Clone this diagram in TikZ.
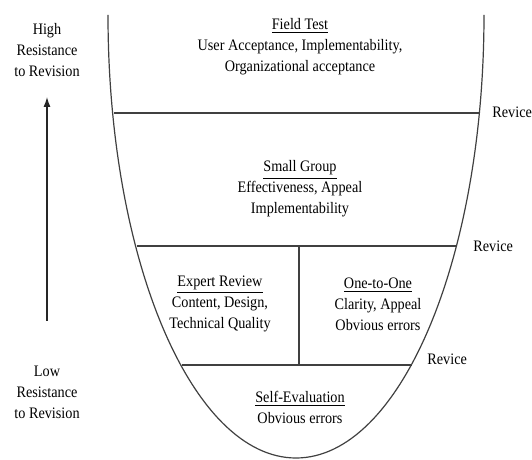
\documentclass[tikz,border=0pt]{standalone}
\usepackage{fontspec}
\setmainfont[FakeStretch=0.89]{Liberation Serif}
\usetikzlibrary{arrows.meta}
\tikzset{
  x=0.5pt, y=0.5pt,
  lbl/.style={align=center, inner sep=0pt, text=black, font=\fontsize{8}{10.5}\selectfont},
  rev/.style={anchor=west, inner sep=0pt, text=black, font=\fontsize{8}{10.5}\selectfont},
  ln/.style={draw=black!75, line width=0.6pt},
}
\begin{document}
\begin{tikzpicture}
\useasboundingbox (0,0) rectangle (532,-460);
% U shape (half ellipse)
\draw[ln] (108,-15) arc[start angle=180, end angle=360, x radius=188, y radius=443];
% boundary points
\coordinate (l1) at (113.7,-113);
\coordinate (r1) at (480.3,-113);
\coordinate (l2) at (136.6,-246);
\coordinate (r2) at (457.4,-246);
\coordinate (l3) at (181.8,-365);
\coordinate (r3) at (412.2,-365);
\coordinate (vt) at (299,-246);
\coordinate (vb) at (299,-365);
\draw[ln] (l1) -- (r1);
\draw[ln] (l2) -- (r2);
\draw[ln] (l3) -- (r3);
\draw[ln] (vt) -- (vb);
% Revice labels
\node[rev] (rv1) at (492,-112) {Revice};
\node[rev] (rv2) at (473,-246) {Revice};
\node[rev] (rv3) at (427,-359) {Revice};
% stage texts
\node[lbl] (field) at (300,-47) {\underline{Field Test}\\User Acceptance, Implementability,\\Organizational acceptance};
\node[lbl] (small) at (300,-189) {\underline{Small Group}\\Effectiveness, Appeal\\Implementability};
\node[lbl] (expert) at (220,-304) {\underline{Expert Review}\\Content, Design,\\Technical Quality};
\node[lbl] (one) at (378,-304) {\underline{One-to-One}\\Clarity, Appeal\\Obvious errors};
\node[lbl] (self) at (300,-407) {\underline{Self-Evaluation}\\Obvious errors};
% side labels and arrow
\node[lbl] (high) at (47,-50) {High\\Resistance\\to Revision};
\node[lbl] (low) at (47,-392) {Low\\Resistance\\to Revision};
\coordinate (abot) at (47,-321);
\coordinate (atop) at (47,-97);
\draw[draw=black!85, line width=0.6pt, -{Latex[length=5pt,width=3.5pt]}] (abot) -- (atop);
\end{tikzpicture}
\end{document}
